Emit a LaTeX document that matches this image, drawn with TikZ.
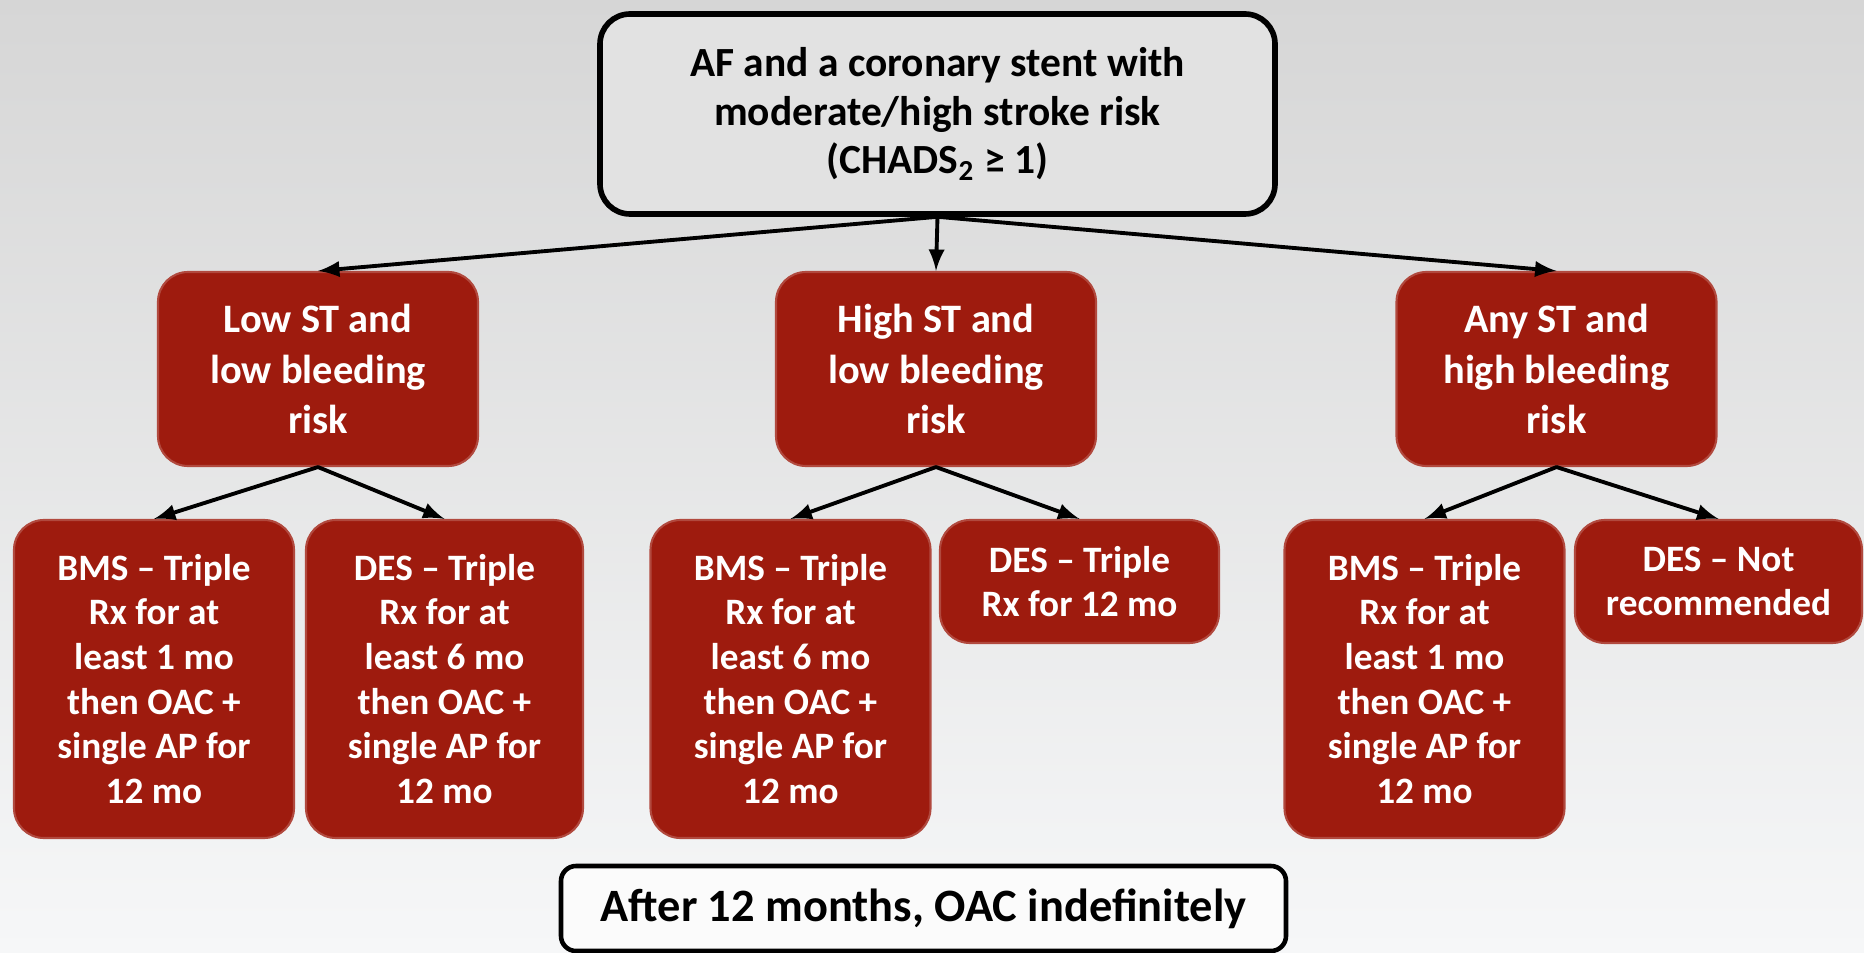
\documentclass[tikz,border=0pt]{standalone}
\usepackage{fontspec}
\setmainfont{Carlito}
\usetikzlibrary{arrows}
\usepackage{xcolor}
\definecolor{stentred}{RGB}{158,27,14}
\definecolor{panelgray}{RGB}{226,226,226}

\begin{document}
\begin{tikzpicture}[line cap=round,line join=round,x=1.0cm,y=1.0cm,
	greybox/.style={draw=black,fill=panelgray,line width=1.6pt,rounded corners=0.3cm,align=center,inner sep=0pt},
	redbox/.style={draw=stentred!80!white,fill=stentred,line width=0.6pt,rounded corners=0.3cm,text=white,align=center,inner sep=0pt},
	riskbox/.style={redbox,minimum width=3.2cm,minimum height=1.94cm,font=\fontsize{11.5}{14.4}\selectfont\bfseries},
	rxbox/.style={redbox,minimum width=2.8cm,minimum height=3.18cm,font=\fontsize{10.6}{12.7}\selectfont\bfseries},
	shortbox/.style={rxbox,minimum height=1.23cm},
	arr/.style={-latex,line width=1.1pt}]
	\shade[top color={rgb,255:red,214;green,214;blue,214},bottom color={rgb,255:red,246;green,247;blue,248}] (0,0) rectangle (18.64,9.52);
	\useasboundingbox (0,0) rectangle (18.64,9.52);
	% stroke risk at the top
	\node[greybox,minimum width=6.75cm,minimum height=2.0cm,font=\fontsize{11.8}{13.8}\selectfont\bfseries] (top) at (9.375,8.38) {AF and a coronary stent with\\moderate/high stroke risk\\(CHADS\textsubscript{2} ≥ 1)};
	% stent thrombosis / bleeding risk
	\node[riskbox] (low) at (3.18,5.83) {Low ST and\\low bleeding\\risk};
	\node[riskbox] (high) at (9.36,5.83) {High ST and\\low bleeding\\risk};
	\node[riskbox] (any) at (15.565,5.83) {Any ST and\\high bleeding\\risk};
	% treatment by stent type
	\node[rxbox] (bmsa) at (1.54,2.73) {BMS -- Triple\\Rx for at\\least 1 mo\\then OAC +\\single AP for\\12 mo};
	\node[rxbox,minimum width=2.77cm] (desa) at (4.445,2.73) {DES -- Triple\\Rx for at\\least 6 mo\\then OAC +\\single AP for\\12 mo};
	\node[rxbox] (bmsb) at (7.905,2.73) {BMS -- Triple\\Rx for at\\least 6 mo\\then OAC +\\single AP for\\12 mo};
	\node[shortbox,minimum width=2.79cm] (desb) at (10.795,3.705) {DES -- Triple\\Rx for 12 mo};
	\node[rxbox] (bmsc) at (14.245,2.73) {BMS -- Triple\\Rx for at\\least 1 mo\\then OAC +\\single AP for\\12 mo};
	\node[shortbox,minimum width=2.87cm] (desc) at (17.185,3.705) {DES -- Not\\recommended};
	\node[draw=black,fill=white!97!gray,line width=1.3pt,rounded corners=0.15cm,minimum width=7.25cm,minimum height=0.85cm,inner sep=0pt,font=\fontsize{13.2}{16}\selectfont\bfseries] (after) at (9.235,0.435) {After 12 months, OAC indefinitely};
	% connectors
	\draw[arr] (top.south) -- (low.north);
	\draw[arr] (top.south) -- (high.north);
	\draw[arr] (top.south) -- (any.north);
	\draw[arr] (low.south) -- (bmsa.north);
	\draw[arr] (low.south) -- (desa.north);
	\draw[arr] (high.south) -- (bmsb.north);
	\draw[arr] (high.south) -- (desb.north);
	\draw[arr] (any.south) -- (bmsc.north);
	\draw[arr] (any.south) -- (desc.north);
\end{tikzpicture}
\end{document}
